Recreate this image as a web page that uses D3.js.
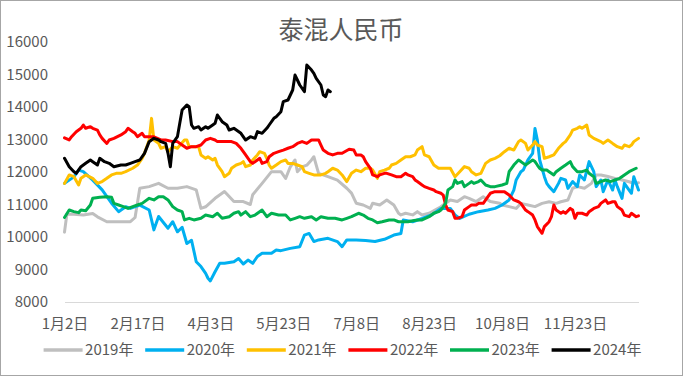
<!DOCTYPE html>
<html>
<head>
<meta charset="utf-8">
<script src="https://cdn.jsdelivr.net/npm/d3@7"></script>
<style>
  body { margin: 0; background: #fff; }
  text { font-family: "Noto Sans CJK SC", "Noto Sans", sans-serif; }
</style>
</head>
<body>
<script>
// trading-day index (0 = 1月2日) and price
var s2019 = [[0,10150],[1,10700],[4,10700],[8,10680],[12,10720],[14,10620],[18,10470],[28,10470],[30,10600],[32,11500],[36,11550],[40,11650],[44,11500],[48,11500],[52,11550],[56,11450],[58,10880],[60,10930],[64,11190],[68,11400],[72,11090],[76,11090],[79,11000],[80,11300],[84,11650],[88,12010],[92,12010],[94,11800],[96,12160],[98,12370],[99,12010],[101,12160],[103,12210],[105,12370],[106,12470],[108,11960],[112,11860],[116,11750],[120,11500],[122,11350],[124,11040],[127,10985],[130,10880],[131,11040],[134,10985],[137,11140],[140,10985],[142,10730],[143,10680],[145,10730],[148,10680],[150,10780],[152,10680],[155,10730],[160,10930],[161,10985],[164,11140],[167,11090],[170,11240],[172,11190],[175,11090],[178,11240],[181,11090],[185,11040],[186,10985],[189,10935],[192,10880],[194,11035],[197,10985],[200,10935],[203,11035],[206,11085],[209,11035],[211,11085],[214,11140],[216,11500],[218,11550],[221,11500],[224,11650],[226,11910],[228,11910],[231,11860],[234,11805],[237,11755],[240,11700],[242,11650],[244,11670]];

var s2020 = [[0,11650],[4,11850],[6,12060],[8,12010],[12,11750],[16,11450],[20,11040],[23,10780],[26,10930],[28,10880],[32,10980],[36,10830],[38,10220],[40,10630],[44,10270],[46,10470],[48,10160],[50,10300],[52,9800],[54,9900],[56,9240],[58,9090],[60,8880],[61,8730],[62,8650],[64,8930],[66,9190],[68,9190],[72,9240],[74,9340],[76,9170],[78,9290],[80,9190],[82,9400],[84,9500],[88,9500],[90,9600],[92,9580],[96,9650],[100,9700],[102,10060],[104,10110],[106,9860],[108,9910],[112,9960],[116,9860],[118,9700],[120,9910],[124,9910],[128,9890],[132,9860],[136,9930],[140,10060],[143,10110],[144,10520],[148,10470],[152,10570],[156,10680],[160,10880],[164,10880],[166,10680],[168,10570],[172,10700],[176,10780],[180,10830],[183,10880],[186,10985],[189,11140],[191,11445],[192,11755],[194,12010],[195,12060],[197,12370],[199,12575],[200,13340],[201,12985],[202,12370],[204,11855],[205,11650],[206,11550],[208,11395],[210,11650],[211,11805],[213,11755],[214,11495],[216,11705],[218,11550],[219,11910],[221,11755],[223,12320],[225,12010],[226,11550],[228,11755],[229,11395],[231,11755],[233,11445],[234,11755],[235,11550],[237,11190],[238,11650],[240,11445],[241,11345],[242,11855],[244,11445]];

var s2021 = [[0,11650],[2,11910],[4,11855],[6,11600],[7,11805],[9,11910],[12,11805],[14,11650],[16,11705],[18,11805],[20,11910],[22,11960],[24,11960],[26,12010],[29,12115],[31,12215],[33,12420],[34,12575],[36,12985],[37,13650],[38,12985],[40,12880],[41,12730],[43,12780],[44,12625],[46,12780],[48,12730],[51,12985],[52,12985],[53,12780],[55,12780],[57,12780],[58,12525],[60,12420],[61,12470],[63,12370],[64,12420],[65,12215],[67,12010],[68,11855],[70,11960],[71,12115],[73,12215],[75,12265],[76,12320],[77,12165],[79,12215],[80,12370],[82,12525],[83,12625],[85,12575],[86,12420],[87,12215],[88,12115],[90,12215],[92,12320],[94,12370],[95,12265],[97,12265],[99,12215],[101,12165],[102,12010],[104,11960],[106,11910],[109,11910],[111,11960],[112,12010],[114,12115],[116,12060],[118,11910],[120,11705],[122,11960],[124,12060],[126,12010],[128,12115],[130,12115],[131,12060],[133,11805],[134,12010],[136,12060],[138,12115],[139,12215],[141,12265],[143,12370],[145,12470],[147,12470],[149,12525],[150,12675],[152,12780],[153,12525],[155,12470],[157,12215],[159,12115],[161,12115],[164,12115],[166,11855],[168,12010],[170,12165],[172,12115],[173,12010],[175,11910],[177,11960],[178,12115],[179,12265],[181,12370],[183,12420],[185,12500],[187,12625],[189,12730],[191,12675],[193,12935],[194,12985],[196,12880],[197,12675],[199,12830],[200,12935],[201,12830],[203,12780],[204,12420],[206,12470],[208,12525],[210,12730],[212,12880],[213,12935],[215,13140],[216,13290],[218,13345],[219,13395],[220,13345],[222,13445],[223,13140],[225,13035],[228,12935],[229,12880],[231,12985],[233,12880],[235,12780],[237,12730],[238,12830],[240,12780],[241,12830],[242,12935],[244,13035]];

var s2022 = [[0,13050],[2,12985],[3,13085],[5,13240],[7,13345],[8,13445],[9,13345],[11,13395],[12,13345],[14,13290],[15,13140],[16,13035],[18,12880],[19,12985],[21,13035],[24,13140],[26,13240],[27,13345],[29,13240],[30,13190],[31,13085],[33,13190],[34,13085],[36,13085],[38,13085],[41,12985],[43,12985],[46,12935],[48,12935],[50,12830],[52,12730],[54,12780],[56,12780],[58,12830],[60,12985],[62,13035],[64,12985],[65,12935],[68,12935],[71,12935],[73,12880],[75,12730],[77,12525],[79,12320],[80,12265],[82,12370],[83,12420],[84,12265],[86,12320],[87,12470],[89,12575],[91,12625],[93,12675],[95,12730],[97,12780],[99,12880],[101,12935],[103,12880],[105,12985],[108,12985],[109,12830],[110,12675],[112,12575],[114,12525],[116,12575],[118,12575],[121,12700],[123,12675],[124,12525],[126,12525],[127,12470],[128,12320],[130,12115],[131,11910],[133,11855],[134,11910],[136,11960],[137,11960],[139,11910],[141,11855],[143,11855],[145,11960],[146,11910],[148,11855],[149,11755],[150,11705],[152,11600],[153,11550],[155,11495],[157,11445],[158,11395],[160,11345],[161,11290],[162,10985],[163,10830],[165,10780],[166,10575],[167,10575],[169,10625],[170,10830],[172,10935],[173,10985],[175,10985],[176,11035],[178,11035],[180,11240],[181,11345],[183,11395],[187,11395],[189,11290],[191,11140],[193,11085],[194,11035],[196,10830],[197,10780],[199,10675],[200,10525],[201,10320],[203,10115],[204,10320],[206,10470],[207,10625],[208,10985],[209,10830],[211,10730],[212,10780],[213,10730],[215,10880],[216,10830],[217,10575],[218,10730],[220,10730],[222,10675],[223,10780],[225,10880],[227,10935],[228,11035],[230,11140],[231,11035],[233,11085],[234,11085],[235,10935],[237,10830],[238,10675],[240,10625],[241,10730],[243,10625],[244,10650]];

var s2023 = [[0,10600],[2,10830],[4,10780],[6,10750],[7,10830],[9,10810],[11,10985],[12,11190],[15,11220],[18,11240],[20,11220],[21,11035],[23,10985],[25,10935],[27,10880],[29,10935],[31,10985],[33,11035],[36,11190],[38,11140],[40,11240],[42,11240],[44,11140],[46,10935],[48,10830],[50,10780],[51,10525],[53,10575],[55,10525],[58,10575],[60,10675],[63,10625],[65,10730],[67,10575],[70,10625],[72,10730],[74,10780],[75,10675],[77,10780],[79,10625],[81,10675],[84,10830],[86,10625],[88,10730],[91,10675],[94,10675],[96,10525],[98,10575],[100,10625],[102,10575],[105,10625],[107,10525],[109,10625],[112,10575],[115,10575],[118,10525],[120,10575],[122,10625],[125,10730],[127,10675],[129,10575],[131,10525],[133,10440],[135,10470],[138,10525],[140,10525],[142,10470],[146,10470],[148,10500],[150,10525],[152,10525],[155,10625],[157,10730],[159,10780],[160,10830],[162,11035],[163,11445],[165,11550],[166,11755],[167,11650],[169,11705],[170,11550],[172,11650],[173,11705],[174,11650],[176,11705],[177,11755],[179,11600],[181,11550],[183,11550],[186,11600],[188,11650],[189,12010],[191,12215],[193,12370],[194,12320],[196,12215],[197,12265],[199,12370],[200,12320],[201,12215],[202,12115],[203,12060],[205,12060],[206,12010],[208,11910],[209,12010],[211,12115],[213,12215],[215,12320],[216,12165],[218,12010],[220,12010],[222,12060],[223,11960],[225,11855],[226,11650],[228,11705],[230,11755],[232,11705],[234,11755],[236,11805],[238,11910],[240,12010],[243,12115]];

var s2024 = [[0,12420],[2,12164],[4,12010],[5,11959],[7,12164],[9,12267],[11,12369],[12,12318],[14,12215],[15,12420],[17,12318],[19,12267],[21,12164],[24,12215],[26,12215],[28,12267],[30,12318],[32,12369],[34,12574],[36,12933],[38,13036],[40,12984],[41,12933],[43,12882],[44,12574],[45,12164],[46,12882],[48,13087],[49,13497],[50,13908],[52,14061],[53,14010],[54,13446],[55,13344],[57,13395],[58,13292],[60,13395],[61,13344],[63,13446],[64,13497],[65,13754],[67,13549],[69,13446],[70,13292],[72,13344],[75,13190],[77,12984],[79,13087],[81,13036],[82,13241],[84,13190],[86,13344],[87,13446],[89,13651],[90,13702],[92,13856],[93,14164],[95,14215],[97,14523],[98,14984],[99,14831],[100,14677],[102,14472],[103,15292],[105,15138],[106,15036],[107,14882],[109,14677],[110,14369],[111,14318],[112,14523],[113,14472]];

var seriesNames = ["2019年", "2020年", "2021年", "2022年", "2023年", "2024年"];
var seriesData = [s2019, s2020, s2021, s2022, s2023, s2024];
var colors = ["#bfbfbf", "#00b0f0", "#ffc000", "#ff0000", "#00b050", "#000000"];

var xLabels = ["1月2日", "2月17日", "4月3日", "5月23日", "7月8日", "8月23日", "10月8日", "11月23日"];
var xTickIdx = [0, 31, 62, 93, 124, 155, 186, 217];
var yTicks = [8000, 9000, 10000, 11000, 12000, 13000, 14000, 15000, 16000];

var width = 683, height = 376;
var textColor = "#595959";

var svg = d3.select("body").append("svg")
  .attr("width", width)
  .attr("height", height);

svg.append("rect")
  .attr("x", 0.5).attr("y", 0.5)
  .attr("width", width - 1).attr("height", height - 1)
  .attr("fill", "#fff")
  .attr("stroke", "#a6a6a6");

svg.append("text")
  .attr("x", 341).attr("y", 39)
  .attr("text-anchor", "middle")
  .attr("font-size", 25)
  .attr("fill", textColor)
  .text("泰混人民币");

var x = d3.scaleLinear().domain([0, 244]).range([64.5, 638.5]);
var y = d3.scaleLinear().domain([8000, 16000]).range([302, 42]);

// y axis (labels only)
var gy = svg.append("g")
  .attr("transform", "translate(48,0)")
  .call(d3.axisLeft(y).tickValues(yTicks).tickSize(0).tickPadding(0).tickFormat(d3.format("d")));
gy.select(".domain").remove();
gy.selectAll("text")
  .attr("font-size", 15)
  .attr("font-family", "'Noto Sans CJK SC', sans-serif")
  .attr("fill", textColor);

// x axis
var gx = svg.append("g")
  .attr("transform", "translate(0,302)")
  .call(d3.axisBottom(x).tickValues(xTickIdx).tickSize(0).tickPadding(16)
    .tickFormat(function(d, i) { return xLabels[i]; }));
gx.select(".domain").attr("stroke", "#d9d9d9").attr("stroke-width", 1);
gx.selectAll("text")
  .attr("font-size", 15)
  .attr("font-family", "'Noto Sans CJK SC', sans-serif")
  .attr("fill", textColor);

var line = d3.line()
  .x(function(d) { return x(d[0]); })
  .y(function(d) { return y(d[1]); });

svg.append("g").selectAll("path")
  .data(seriesData)
  .enter().append("path")
  .attr("d", line)
  .attr("fill", "none")
  .attr("stroke", function(d, i) { return colors[i]; })
  .attr("stroke-width", 3)
  .attr("stroke-linejoin", "round")
  .attr("stroke-linecap", "round");

// legend
var legend = svg.append("g").selectAll("g")
  .data(seriesNames)
  .enter().append("g")
  .attr("transform", function(d, i) { return "translate(" + (43.6 + i * 101.6) + ",350)"; });

legend.append("line")
  .attr("x1", 0).attr("x2", 39)
  .attr("stroke", function(d, i) { return colors[i]; })
  .attr("stroke-width", 3.5);

legend.append("text")
  .attr("x", 41.5).attr("y", 5)
  .attr("font-size", 15)
  .attr("fill", textColor)
  .text(function(d) { return d; });
</script>
</body>
</html>
